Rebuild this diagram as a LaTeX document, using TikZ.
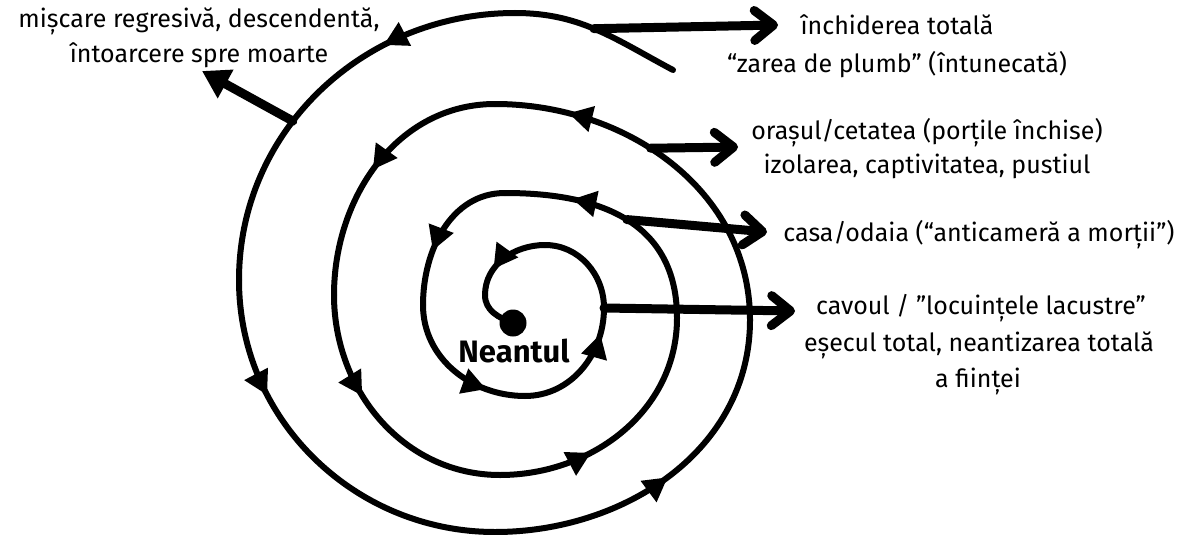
\documentclass[tikz,border=0pt]{standalone}
\usepackage{fontspec}
\setmainfont{Fira Sans}
\usetikzlibrary{arrows.meta,decorations.markings}
\tikzset{
  spiral/.style={line width=6pt, line cap=round, line join=round},
  arr/.style={postaction={decorate, decoration={markings,
      mark=at position #1 with {\arrow{Triangle[length=24pt,width=25pt]}}}}},
  conn/.style={line width=9pt, line cap=round},
  barb/.style={conn, -{Straight Barb[length=19pt,width=30pt,round]}},
  tri/.style={conn, -{Triangle[length=27pt,width=31pt]}},
  lbl/.style={font=\fontsize{25}{30}\selectfont, anchor=base, inner sep=0pt},
}
\begin{document}
\begin{tikzpicture}[x=1pt,y=-1pt]
\fill[white] (0,0) rectangle (1191,535);
\useasboundingbox (0,0) rectangle (1191,535);
% extreme points of the spiral
\coordinate (e0) at (673,70);
\coordinate (T0) at (515,13);
\coordinate (L0) at (239,280);
\coordinate (B0) at (495,532);
\coordinate (R0) at (750,320);
\coordinate (T1) at (495,104);
\coordinate (L1) at (334,295);
\coordinate (B1) at (500,475);
\coordinate (R1) at (677,318);
\coordinate (T2) at (505,193);
\coordinate (L2) at (423,305);
\coordinate (B2) at (525,396);
\coordinate (R2) at (604,308);
\coordinate (T3) at (545,245);
\coordinate (L3) at (485,295);
\node[circle, fill=black, minimum size=27pt, inner sep=0pt] (dot) at (513,323) {};
% spiral
\draw[spiral] (e0) to[out=152,in=0] coordinate[pos=0.52] (p1) (T0);
\draw[spiral, arr=0.32] (T0) to[out=180,in=90] coordinate[pos=0.6] (p4) (L0);
\draw[spiral, arr=0.3] (L0) to[out=270,in=180] (B0);
\draw[spiral, arr=0.5] (B0) to[out=0,in=270] (R0);
\draw[spiral, arr=0.8] (R0) to[out=90,in=0] coordinate[pos=0.57] (p13) (T1);
\draw[spiral, arr=0.52] (T1) to[out=180,in=90] (L1);
\draw[spiral, arr=0.39] (L1) to[out=270,in=180] (B1);
\draw[spiral, arr=0.36] (B1) to[out=0,in=270] (R1);
\draw[spiral, arr=0.72] (R1) to[out=90,in=0,looseness=1.15] coordinate[pos=0.5] (p25) (T2);
\draw[spiral, arr=0.64] (T2) to[out=180,in=90] (L2);
\draw[spiral, arr=0.74] (L2) to[out=270,in=180] (B2);
\draw[spiral, arr=0.8] (B2) to[out=0,in=270] (R2);
\draw[spiral] (R2) to[out=90,in=0] (T3);
\draw[spiral, arr=0.68] (T3) to[out=180,in=90] (L3);
\draw[spiral] (L3) to[out=270,in=160] (dot.center);
% connector ends
\coordinate (t1) at (202,71);
\coordinate (t2) at (778,25);
\coordinate (t3) at (738,147);
\coordinate (t4) at (767,232);
\coordinate (t5) at (795,311);
\draw[tri] (p4) -- (t1);
\draw[barb] (p1) -- (t2);
\draw[barb] (p13) -- (t3);
\draw[barb] (p25) -- (t4);
\draw[barb] (R2) -- (t5);
% labels
\node[font=\fontsize{31}{36}\selectfont\bfseries, anchor=base, inner sep=0pt] (nea) at (514,362) {Neantul};
\node[lbl] (l1a) at (199,28) {mișcare regresivă, descendentă,};
\node[lbl] (l1b) at (199,63) {întoarcere spre moarte};
\node[lbl] (l2a) at (897,35) {închiderea totală};
\node[lbl] (l2b) at (897,72) {“zarea de plumb” (întunecată)};
\node[lbl] (l3a) at (927,139) {orașul/cetatea (porțile închise)};
\node[lbl] (l3b) at (927,173) {izolarea, captivitatea, pustiul};
\node[lbl] (l4a) at (979,241) {casa/odaia (“anticameră a morții”)};
\node[lbl] (l5a) at (981,314) {cavoul / ”locuințele lacustre”};
\node[lbl] (l5b) at (979,351) {eșecul total, neantizarea totală};
\node[lbl] (l5c) at (978,387) {a ființei};
\end{tikzpicture}
\end{document}
